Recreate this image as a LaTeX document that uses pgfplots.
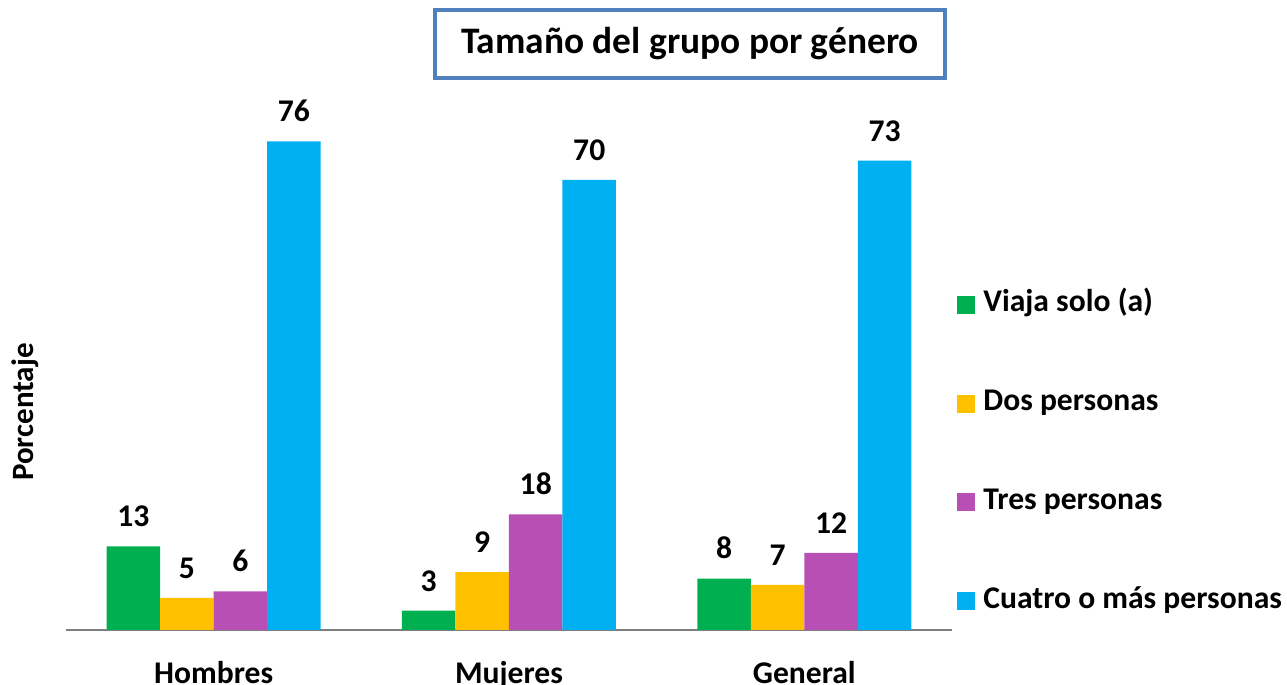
\documentclass[border=0pt]{standalone}
\usepackage{pgfplots}
\pgfplotsset{compat=1.18}
\usepackage{fontspec}
\setmainfont{Carlito}
\definecolor{cgreen}{HTML}{00B050}
\definecolor{cyellow}{HTML}{FFC000}
\definecolor{cpurple}{HTML}{B84FB5}
\definecolor{ccyan}{HTML}{00B0F0}
\definecolor{cborder}{HTML}{4F81BD}
\begin{document}
\begin{tikzpicture}
\begin{axis}[
    at={(33pt,27.5pt)}, anchor=south west,
    scale only axis,
    width=443pt, height=257.2pt,
    ybar=0pt, bar width=26.75pt,
    xmin=-0.5, xmax=2.5,
    ymin=0, ymax=80,
    axis x line*=bottom,
    axis y line=none,
    x axis line style={gray, line width=1pt},
    xtick=data,
    xticklabels={Hombres,Mujeres,General},
    xtick style={draw=none},
    xticklabel style={font=\fontsize{15.8}{18}\selectfont\bfseries, yshift=-8pt},
    ytick=\empty,
    /pgf/number format/assume math mode=true,
    nodes near coords,
    every node near coord/.append style={font=\fontsize{15.8}{18}\selectfont\bfseries, black, anchor=south, inner sep=0pt, yshift=9.5pt},
    legend style={at={(1.0056,0.344)}, anchor=west, draw=none, inner sep=0pt,
        font=\fontsize{15.8}{18}\selectfont\bfseries,
        nodes={text height=10pt, text depth=3pt, inner sep=2pt},
        row sep=32.4pt},
    legend cell align=left,
    legend image code/.code={\fill[#1] (0pt,-4.5pt) rectangle (9pt,4.5pt);},
]
\addplot[fill=cgreen, draw=none] coordinates {(0,13) (1,3) (2,8)};
\addlegendentry{\hspace{2pt}Viaja solo (a)}
\addplot[fill=cyellow, draw=none] coordinates {(0,5) (1,9) (2,7)};
\addlegendentry{\hspace{2pt}Dos personas}
\addplot[fill=cpurple, draw=none] coordinates {(0,6) (1,18) (2,12)};
\addlegendentry{\hspace{2pt}Tres personas}
\addplot[fill=ccyan, draw=none] coordinates {(0,76) (1,70) (2,73)};
\addlegendentry{\hspace{2pt}Cuatro o más personas}
\end{axis}
\node[draw=cborder, line width=2pt, minimum width=255pt, minimum height=34pt, inner sep=0pt,
      font=\fontsize{18.7}{22}\selectfont\bfseries] at (345pt,320.5pt) {Tamaño del grupo por género};
\node[rotate=90, font=\fontsize{15.5}{18}\selectfont\bfseries] at (12.5pt,136.5pt) {Porcentaje};
\pgfresetboundingbox
\path[use as bounding box] (0,0) rectangle (643.5pt,342.5pt);
\end{tikzpicture}
\end{document}
